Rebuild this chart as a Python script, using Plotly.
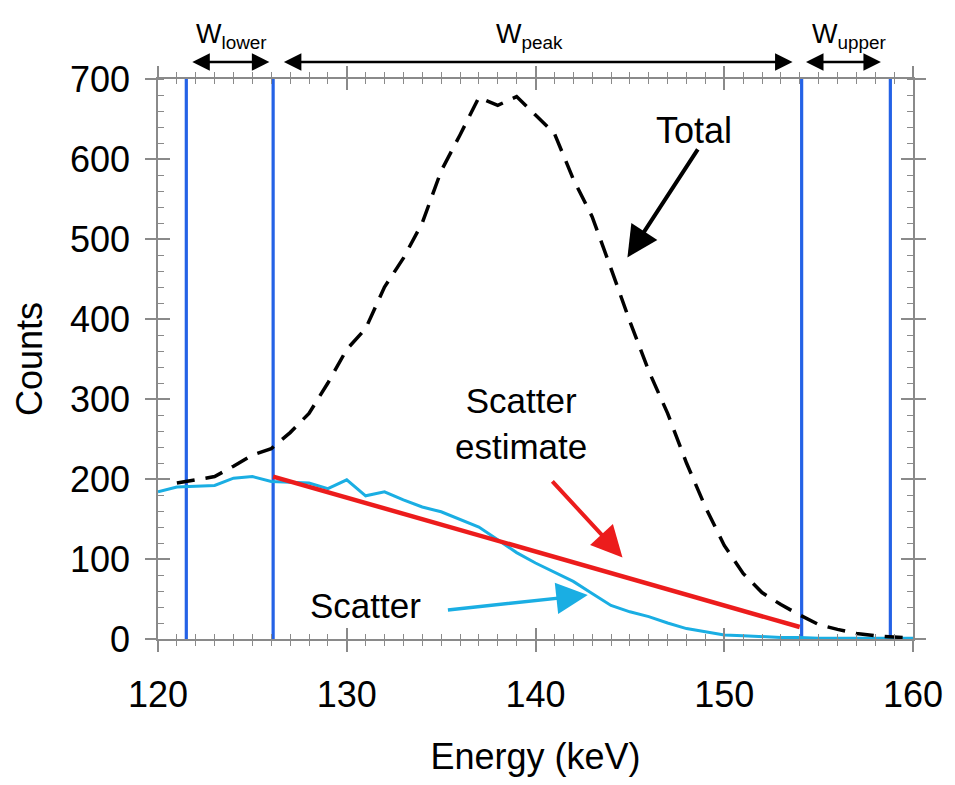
import plotly.graph_objects as go

# ---- data ----
energy_total = [121, 122, 123, 124, 125, 126, 127, 128, 129, 130, 131, 132, 133, 134, 135,
                136, 137, 138, 139, 140, 141, 142, 143, 144, 145, 146, 147, 148, 149, 150,
                151, 152, 153, 154, 155, 156, 157, 158, 159, 160]
counts_total = [195, 199, 203, 216, 230, 238, 258, 282, 320, 362, 388, 440, 476, 520, 585,
                630, 677, 667, 678, 655, 632, 575, 528, 463, 397, 335, 282, 220, 165, 117,
                82, 58, 43, 30, 18, 12, 7, 4, 3, 1]

energy_scatter = [120, 121, 122, 123, 124, 125, 126, 127, 128, 129, 130, 131, 132, 133, 134,
                  135, 136, 137, 138, 139, 140, 141, 142, 143, 144, 145, 146, 147, 148, 149,
                  150, 151, 152, 153, 154, 155, 156, 157, 158, 159, 160]
counts_scatter = [184, 190, 191, 192, 201, 203, 197, 196, 195, 188, 199, 179, 184, 174, 165,
                  159, 149, 140, 124, 108, 95, 84, 72, 57, 42, 34, 28, 20, 13, 9,
                  5, 4, 3, 2, 2, 1, 1, 1, 1, 1, 1]

estimate_energy = [126.1, 154.0]
estimate_counts = [203, 15]

window_edges = [121.5, 126.1, 154.1, 158.8]
window_names = ["lower", "peak", "upper"]

x_ticks = [120, 130, 140, 150, 160]
y_ticks = [0, 100, 200, 300, 400, 500, 600, 700]

FONT = "Liberation Sans, Arial, sans-serif"
AXC = "#8a8a8a"
BLUE = "#2462e6"
CYAN = "#1aaee3"
RED = "#ec1c1c"

fig = go.Figure()

for xe in window_edges:
    fig.add_trace(go.Scatter(x=[xe, xe], y=[0, 700], mode="lines",
                             line=dict(color=BLUE, width=3.2), showlegend=False,
                             hoverinfo="skip"))

fig.add_trace(go.Scatter(x=energy_scatter, y=counts_scatter, mode="lines",
                         line=dict(color=CYAN, width=3), showlegend=False))
fig.add_trace(go.Scatter(x=estimate_energy, y=estimate_counts, mode="lines",
                         line=dict(color=RED, width=4.5), showlegend=False))
fig.add_trace(go.Scatter(x=energy_total, y=counts_total, mode="lines",
                         line=dict(color="black", width=3.5, dash="18px,11px"),
                         showlegend=False))
# invisible trace for second overlay axes
fig.add_trace(go.Scatter(x=[120], y=[0], xaxis="x2", yaxis="y2", mode="markers",
                         marker=dict(opacity=0), showlegend=False, hoverinfo="skip"))

axis_common = dict(showline=True, linecolor=AXC, linewidth=1.5, tickcolor=AXC,
                   tickwidth=1.5, showgrid=False, zeroline=False, mirror="ticks")

fig.update_layout(
    width=955, height=785,
    margin=dict(l=158, r=38, t=79, b=146),
    paper_bgcolor="white", plot_bgcolor="white",
    font=dict(family=FONT, color="black", size=36),
    xaxis=dict(range=[120, 160], tickvals=x_ticks, ticks="outside", ticklen=11,
               minor=dict(dtick=1, ticks="outside", ticklen=5, tickcolor=AXC, tickwidth=1.2),
               tickfont=dict(size=36), ticklabelstandoff=12,
               title=dict(text="Energy (keV)", font=dict(size=36), standoff=30),
               **axis_common),
    yaxis=dict(range=[0, 700], tickvals=y_ticks, ticks="outside", ticklen=11,
               minor=dict(dtick=20, ticks="inside", ticklen=6, tickcolor=AXC, tickwidth=1.2),
               tickfont=dict(size=36), ticklabelstandoff=8,
               title=dict(text="Counts", font=dict(size=36), standoff=16),
               **axis_common),
    xaxis2=dict(range=[120, 160], overlaying="x", side="bottom", tickvals=x_ticks,
                ticks="inside", ticklen=11, showticklabels=False,
                minor=dict(dtick=1, ticks="inside", ticklen=5, tickcolor=AXC, tickwidth=1.2),
                **axis_common),
    yaxis2=dict(range=[0, 700], overlaying="y", side="left", tickvals=y_ticks,
                ticks="inside", ticklen=12, showticklabels=False,
                **axis_common),
)

ann = []
# text labels
ann.append(dict(x=148.4, y=636, xref="x", yref="y", text="Total", showarrow=False,
                font=dict(size=36)))
ann.append(dict(x=139.24, y=270, xref="x", yref="y", text="Scatter<br>estimate",
                showarrow=False, font=dict(size=35)))
ann.append(dict(x=131.0, y=42, xref="x", yref="y", text="Scatter", showarrow=False,
                font=dict(size=35)))
# arrows
ann.append(dict(x=144.87, y=477, ax=148.65, ay=614, xref="x", yref="y", axref="x", ayref="y",
                text="", showarrow=True, arrowhead=2, arrowsize=1.55, arrowwidth=4,
                arrowcolor="black"))
ann.append(dict(x=144.61, y=102, ax=140.82, ay=199, xref="x", yref="y", axref="x", ayref="y",
                text="", showarrow=True, arrowhead=2, arrowsize=1.55, arrowwidth=4,
                arrowcolor=RED))
ann.append(dict(x=142.77, y=55, ax=135.28, ay=36, xref="x", yref="y", axref="x", ayref="y",
                text="", showarrow=True, arrowhead=2, arrowsize=1.8, arrowwidth=3.5,
                arrowcolor=CYAN))
# window labels and double arrows (above the plot, paper y)
w_label_x = [123.9, 139.7, 156.6]
w_arrow_x = [(121.74, 125.9), (126.59, 153.62), (154.25, 158.3)]
plot_top_px, plot_h_px = 79, 560
label_py = 1 + (plot_top_px - 36) / plot_h_px
arrow_py = 1 + (plot_top_px - 62) / plot_h_px
for name, lx, (a0, a1) in zip(window_names, w_label_x, w_arrow_x):
    ann.append(dict(x=lx, y=label_py, xref="x", yref="paper", yanchor="middle",
                    text="W<sub>%s</sub>" % name, showarrow=False, font=dict(size=27)))
    ann.append(dict(x=a1, y=arrow_py, ax=a0, ay=0, xref="x", yref="paper",
                    axref="x", ayref="pixel",
                    text="", showarrow=True, arrowhead=2, arrowside="end+start",
                    arrowsize=1.4, arrowwidth=2.5, arrowcolor="black"))

fig.update_layout(annotations=ann)
fig.write_html("out.html")
